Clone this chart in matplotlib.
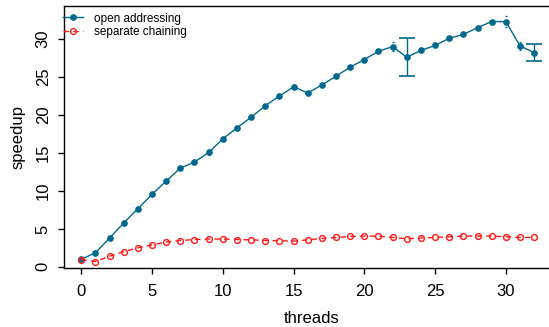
import matplotlib
matplotlib.use("Agg")
import matplotlib.pyplot as plt
import numpy as np

BLUE = "#00688B"
RED = "#FF1A1A"

threads = list(range(33))
open_addr = [1.0, 1.85, 3.8, 5.77, 7.66, 9.55, 11.3, 13.0, 13.8, 15.06, 16.85,
             18.3, 19.7, 21.2, 22.5, 23.7, 22.9, 23.95, 25.1, 26.3, 27.3, 28.4,
             29.0, 27.6, 28.5, 29.15, 30.1, 30.6, 31.5, 32.3, 32.3, 29.1, 28.2]
open_err = [0, 0, 0, 0, 0, 0, 0, 0, 0.2, 0.3, 0, 0, 0, 0, 0, 0.3, 0, 0, 0, 0,
            0, 0, 0.6, 2.5, 0, 0, 0, 0, 0, 0, 0.75, 0.5, 1.1]
sep_chain = [0.96, 0.7, 1.4, 2.0, 2.5, 2.9, 3.26, 3.47, 3.6, 3.66, 3.66, 3.6,
             3.56, 3.47, 3.43, 3.39, 3.56, 3.74, 3.87, 4.0, 4.05, 4.05, 3.87,
             3.7, 3.79, 3.87, 3.96, 4.05, 4.05, 4.05, 3.96, 3.87, 3.87]

plt.rcParams["font.family"] = ["Liberation Sans", "DejaVu Sans"]

fig = plt.figure(figsize=(5.49, 3.27), dpi=100)
ax = fig.add_axes([64 / 549, 59 / 327, 1 - 64 / 549, 262 / 327])

x = np.array(threads)
oy = np.array(open_addr)
oe = np.array(open_err)

# error bars: large ones get proper caps, small ones only tiny tick ends
big = oe > 1
small = (oe > 0) & ~big
ax.errorbar(x[big], oy[big], yerr=oe[big], fmt="none", ecolor=BLUE,
            elinewidth=1, capsize=6, capthick=1.2, zorder=2)
ax.errorbar(x[small], oy[small], yerr=oe[small], fmt="none", ecolor=BLUE,
            elinewidth=0, capsize=1, capthick=1, zorder=2)

ax.plot(x, oy, "-", color=BLUE, lw=1, marker="o", ms=3.8,
        mfc=BLUE, mec=BLUE, label="open addressing", zorder=3)
ax.plot(x, sep_chain, color=RED, lw=1, dashes=(4, 3), marker="o", ms=4.2,
        mfc="none", mec=RED, mew=1, label="separate chaining", zorder=4)

ax.set_xlim(-1.22, 33.05)
ax.set_ylim(-0.15, 34.35)
ax.set_xticks([0, 5, 10, 15, 20, 25, 30])
ax.set_yticks([0, 5, 10, 15, 20, 25, 30])
ax.tick_params(axis="both", labelsize=12, length=4.5, width=1, color="black")
ax.tick_params(axis="x", pad=7)
ax.tick_params(axis="y", pad=5)
for lbl in ax.get_yticklabels():
    lbl.set_rotation(90)
    lbl.set_va("center")

ax.spines["right"].set_visible(False)
for s in ["left", "bottom", "top"]:
    ax.spines[s].set_linewidth(1)
    ax.spines[s].set_color("black")

ax.set_xlabel("threads", fontsize=12)
ax.set_ylabel("speedup", fontsize=12)
ax.xaxis.set_label_coords((312 - 64) / 485, -0.165)
ax.yaxis.set_label_coords(-(64 - 18) / 485, 0.5)
ax.yaxis.label.set_va("center")

ax.legend(loc="upper left", bbox_to_anchor=(-0.003, 0.975), frameon=False,
          fontsize=8.5, borderpad=0, borderaxespad=0, handlelength=1.7,
          handletextpad=1.0, labelspacing=0.1)

fig.savefig("out.png", dpi=100)
